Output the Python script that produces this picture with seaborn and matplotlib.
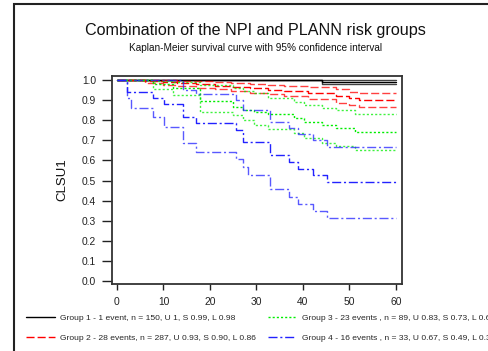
import matplotlib
matplotlib.use("Agg")
import matplotlib.pyplot as plt
from matplotlib.patches import Rectangle
import pandas as pd
import seaborn as sns

sns.set_theme(style="white")
plt.rcParams['font.family'] = ['Liberation Sans', 'DejaVu Sans']

# ---- data -------------------------------------------------------------
group_ids = [1, 2, 3, 4]
n_events = [1, 28, 23, 16]
n_patients = [150, 287, 89, 33]
end_upper = ["1", "0.93", "0.83", "0.67"]
end_surv = ["0.99", "0.90", "0.73", "0.49"]
end_lower = ["0.98", "0.86", "0.65", "0.31"]
follow_up_end = 60.0

# Group 1
times_g1 = [44.0]
upper_g1 = [1.0]
surv_g1 = [0.99]
lower_g1 = [0.98]

# Group 2
times_g2 = [6, 10, 13, 17, 21, 24.5, 28.6, 32.5, 36, 41, 47, 50, 52]
upper_g2 = [1.0, 0.998, 0.995, 0.993, 0.99, 0.985, 0.98, 0.975, 0.972, 0.967, 0.954, 0.942, 0.937]
surv_g2 = [0.995, 0.99, 0.983, 0.978, 0.972, 0.967, 0.958, 0.952, 0.947, 0.934, 0.92, 0.909, 0.90]
lower_g2 = [0.985, 0.975, 0.968, 0.96, 0.955, 0.945, 0.935, 0.928, 0.92, 0.905, 0.884, 0.876, 0.867]

# Group 3
times_g3 = [7.8, 12.0, 17.8, 25.0, 27.2, 29.5, 32.5, 38.1, 40.3, 44.0, 47.2, 51.1]
upper_g3 = [0.995, 0.99, 0.975, 0.962, 0.945, 0.934, 0.912, 0.892, 0.876, 0.859, 0.85, 0.831]
surv_g3 = [0.978, 0.958, 0.898, 0.867, 0.852, 0.842, 0.832, 0.81, 0.793, 0.776, 0.76, 0.74]
lower_g3 = [0.955, 0.925, 0.842, 0.826, 0.80, 0.776, 0.755, 0.735, 0.71, 0.685, 0.672, 0.652]

# Group 4
times_g4 = [2.1, 3.0, 7.8, 10.1, 14.1, 17.0, 25.7, 27.1, 28.2, 32.9, 37.1, 39.0, 42.1, 45.1]
upper_g4 = [1.0, 1.0, 1.0, 1.0, 0.95, 0.929, 0.90, 0.85, 0.85, 0.79, 0.763, 0.731, 0.70, 0.668]
surv_g4 = [0.94, 0.94, 0.91, 0.88, 0.814, 0.787, 0.751, 0.693, 0.693, 0.627, 0.59, 0.557, 0.526, 0.491]
lower_g4 = [0.909, 0.859, 0.814, 0.768, 0.685, 0.643, 0.605, 0.566, 0.527, 0.456, 0.42, 0.383, 0.35, 0.315]

y_ticks = [0.0, 0.1, 0.2, 0.3, 0.4, 0.5, 0.6, 0.7, 0.8, 0.9, 1.0]
x_ticks = [0, 10, 20, 30, 40, 50, 60]

# ---- build long table of step curves ---------------------------------
series = {
    1: (times_g1, upper_g1, surv_g1, lower_g1),
    2: (times_g2, upper_g2, surv_g2, lower_g2),
    3: (times_g3, upper_g3, surv_g3, lower_g3),
    4: (times_g4, upper_g4, surv_g4, lower_g4),
}
rows = []
for g, (t, up, s, lo) in series.items():
    for curve, vals in (("upper", up), ("estimate", s), ("lower", lo)):
        xs = [0.0] + list(t) + [follow_up_end]
        ys = [1.0] + list(vals) + [vals[-1]]
        for x, y in zip(xs, ys):
            rows.append({"group": g, "curve": curve, "time": x, "survival": y})
df = pd.DataFrame(rows)

styles = {
    1: dict(color="black", linestyle="-"),
    2: dict(color="#ff0000", linestyle=(0, (5.8, 2.2))),
    3: dict(color="#00ee00", linestyle=(0, (1.5, 1.5))),
    4: dict(color="#2222ff", linestyle=(0, (6.5, 2.0, 1.5, 2.0))),
}

# ---- figure -----------------------------------------------------------
W, H = 488, 351
fig = plt.figure(figsize=(W / 100, H / 100), dpi=100)
fig.patch.set_facecolor("white")
ax = fig.add_axes([112 / W, 1 - 284 / H, 290 / W, 208 / H])

handles = []
for g in group_ids:
    sub = df[df["group"] == g]
    for curve in ("upper", "lower", "estimate"):
        d = sub[sub["curve"] == curve]
        sns.lineplot(data=d, x="time", y="survival", ax=ax, estimator=None,
                     sort=False, drawstyle="steps-post", linewidth=1.0,
                     alpha=1.0 if curve == "estimate" else 0.75,
                     legend=False, **styles[g])
    handles.append(ax.lines[-1])

ax.set_xlim(-1.07, 61.3)
ax.set_ylim(-0.015, 1.02)
ax.set_xticks(x_ticks)
ax.set_yticks(y_ticks)
ax.set_yticklabels([f"{v:.1f}" for v in y_ticks])
ax.set_xlabel("")
ax.set_ylabel("CLSU1", fontsize=9.5, labelpad=10, color="#111111")
ax.tick_params(axis="y", direction="out", length=7, width=1.0, pad=4.5,
               labelsize=7.4, colors="#222222", left=True)
ax.tick_params(axis="x", direction="out", length=4.3, width=1.0, pad=5,
               labelsize=7.4, colors="#222222", bottom=True)
for side in ("left", "right", "top", "bottom"):
    ax.spines[side].set_visible(True)
    ax.spines[side].set_color("#333333")
    ax.spines[side].set_linewidth(1.3)
ax.grid(False)

# titles
fig.text(255.5 / W, 1 - 30 / H, "Combination of the NPI and PLANN risk groups",
         ha="center", va="center", fontsize=11.6, color="#111111")
fig.text(256 / W, 1 - 48 / H,
         "Kaplan-Meier survival curve with 95% confidence interval",
         ha="center", va="center", fontsize=7.2, color="#111111")

# legend
labels = []
for g, ev, n, u, s, lo in zip(group_ids, n_events, n_patients, end_upper, end_surv, end_lower):
    word = "event" if ev == 1 else "events"
    sep = " ," if g >= 3 else ","
    labels.append(f"Group {g} - {ev} {word}{sep} n = {n}, U {u}, S {s}, L {lo}")
fig.legend(handles, labels, ncol=2, loc="upper left",
           bbox_to_anchor=(26 / W, 1 - 314 / H), frameon=False,
           fontsize=6.1, handlelength=3.4, handletextpad=0.6,
           labelspacing=1.4, columnspacing=1.4, borderpad=0, borderaxespad=0)

# outer frame
fig.add_artist(Rectangle((14 / W, -0.1), 2.0, 1 - 4 / H + 0.1,
                         transform=fig.transFigure, fill=False,
                         edgecolor="#222222", linewidth=1.5))

fig.savefig("out.png", dpi=100)
